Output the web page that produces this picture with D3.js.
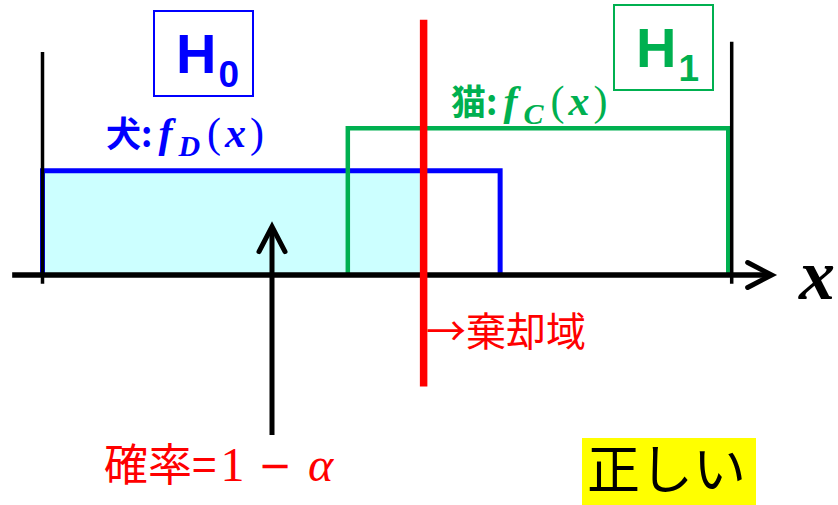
<!DOCTYPE html>
<html>
<head>
<meta charset="utf-8">
<script src="https://cdn.jsdelivr.net/npm/d3@7"></script>
<style>
  body { margin: 0; background: #fff; }
  svg { display: block; }
</style>
</head>
<body>
<div id="chart"></div>
<script>
// --- data (x in abstract units, density heights) ---
const dogRange = [0, 6.64];        // 犬: f_D(x)
const catRange = [4.43, 9.95];     // 猫: f_C(x)
const dogDensity = 0.71;
const catDensity = 1.0;
const criticalX = 5.53;            // 棄却域 boundary
const probArrowX = 3.33;           // 確率 = 1 - α arrow
const frameX = [0, 10];            // thin vertical guide lines
const axisRange = [-0.44, 10.58];

const labels = {
    dog: "犬:", cat: "猫:", reject: "→棄却域", prob: "確率=", good: "正しい"
};

const width = 838, height = 505;

const x = d3.scaleLinear().domain([0, 10]).range([42.5, 731.7]);
const y = d3.scaleLinear().domain([0, 1]).range([275, 128.3]);

const svg = d3.select("#chart").append("svg")
    .attr("width", width)
    .attr("height", height);

const blue = "#0000ff", green = "#00b050", red = "#ff0000";
const mathFont = "'Liberation Serif', 'DejaVu Serif', serif";
const cjkFont = "'Noto Sans CJK JP', sans-serif";

// shaded acceptance area (dog density left of critical value)
svg.append("rect")
    .attr("x", x(dogRange[0]))
    .attr("y", y(dogDensity))
    .attr("width", x(criticalX) - x(dogRange[0]))
    .attr("height", y(0) - y(dogDensity))
    .attr("fill", "#ccffff");

// density outlines
const rectPath = (r, h) => d3.line()([
    [x(r[0]), y(0)], [x(r[0]), y(h)], [x(r[1]), y(h)], [x(r[1]), y(0)]
]);

svg.append("path")
    .attr("d", rectPath(dogRange, dogDensity))
    .attr("fill", "none")
    .attr("stroke", blue)
    .attr("stroke-width", 5);

svg.append("path")
    .attr("d", rectPath(catRange, catDensity))
    .attr("fill", "none")
    .attr("stroke", green)
    .attr("stroke-width", 4.5);

// thin guide lines
svg.append("line")
    .attr("x1", x(frameX[0])).attr("x2", x(frameX[0]))
    .attr("y1", y(1.52)).attr("y2", y(-0.06))
    .attr("stroke", "#000").attr("stroke-width", 3.5);
svg.append("line")
    .attr("x1", x(frameX[1])).attr("x2", x(frameX[1]))
    .attr("y1", y(1.59)).attr("y2", y(-0.06))
    .attr("stroke", "#000").attr("stroke-width", 3.5);

// x axis with arrow
svg.append("line")
    .attr("x1", x(axisRange[0])).attr("x2", x(axisRange[1]) - 2)
    .attr("y1", y(0)).attr("y2", y(0))
    .attr("stroke", "#000").attr("stroke-width", 5.5);
svg.append("path")
    .attr("d", d3.line()([
        [x(axisRange[1]) - 24, y(0) - 12.5],
        [x(axisRange[1]), y(0)],
        [x(axisRange[1]) - 24, y(0) + 12.5]
    ]))
    .attr("fill", "none").attr("stroke", "#000")
    .attr("stroke-width", 5).attr("stroke-linecap", "round").attr("stroke-linejoin", "miter");

svg.append("text")
    .attr("x", 799).attr("y", 299)
    .attr("font-family", mathFont)
    .attr("font-weight", "bold").attr("font-style", "italic")
    .attr("font-size", 72)
    .text("x");

// probability arrow
svg.append("line")
    .attr("x1", x(probArrowX)).attr("x2", x(probArrowX))
    .attr("y1", y(0.33) + 3).attr("y2", y(-1.09))
    .attr("stroke", "#000").attr("stroke-width", 5);
svg.append("path")
    .attr("d", d3.line()([
        [x(probArrowX) - 13, y(0.33) + 25],
        [x(probArrowX), y(0.33)],
        [x(probArrowX) + 13, y(0.33) + 25]
    ]))
    .attr("fill", "none").attr("stroke", "#000")
    .attr("stroke-width", 5).attr("stroke-linecap", "round");

// critical value line
svg.append("line")
    .attr("x1", x(criticalX)).attr("x2", x(criticalX))
    .attr("y1", y(1.74)).attr("y2", y(-0.76))
    .attr("stroke", red).attr("stroke-width", 7.5);

// hypothesis boxes
function hypBox(bx, by, color, sub) {
    svg.append("rect")
        .attr("x", bx).attr("y", by)
        .attr("width", 99).attr("height", 85)
        .attr("fill", "none").attr("stroke", color).attr("stroke-width", 2);
    const t = svg.append("text")
        .attr("x", bx + 22).attr("y", by + 62)
        .attr("font-family", "'Liberation Sans', Arial, sans-serif")
        .attr("font-weight", "bold")
        .attr("fill", color);
    t.append("tspan").attr("font-size", 56).text("H");
    t.append("tspan").attr("font-size", 37).attr("dx", 2).attr("dy", 14).text(sub);
}
hypBox(154, 11, blue, "0");
hypBox(614, 5, green, "1");

// density labels: 犬:f_D(x) with wide math spacing like Cambria Math
function densLabel(lx, ly, color, head, sub) {
    const t = svg.append("text")
        .attr("x", lx).attr("y", ly)
        .attr("fill", color)
        .attr("font-weight", "bold");
    t.append("tspan").attr("font-family", cjkFont).attr("font-size", 35).text(head);
    t.append("tspan").attr("font-family", mathFont).attr("font-style", "italic")
        .attr("font-size", 42).attr("dx", 6).text("f");
    t.append("tspan").attr("font-family", mathFont).attr("font-style", "italic")
        .attr("font-size", 30).attr("dx", 6).attr("dy", 9).text(sub);
    t.append("tspan").attr("font-family", mathFont).attr("font-weight", "normal")
        .attr("font-size", 42).attr("dy", -9).attr("dx", 7).text("(");
    t.append("tspan").attr("font-family", mathFont).attr("font-style", "italic")
        .attr("font-size", 42).attr("dx", 4).text("x");
    t.append("tspan").attr("font-family", mathFont).attr("font-weight", "normal")
        .attr("font-size", 42).attr("dx", 4).text(")");
}
densLabel(106, 147, blue, labels.dog, "D");
densLabel(451, 115, green, labels.cat, "C");

// rejection region label
svg.append("text")
    .attr("x", 426).attr("y", 346)
    .attr("fill", red)
    .attr("font-family", cjkFont)
    .attr("font-size", 40)
    .text(labels.reject);

// probability label: 確率=1 − α
const pt = svg.append("text")
    .attr("x", 104).attr("y", 481)
    .attr("fill", red);
pt.append("tspan").attr("font-family", cjkFont).attr("font-size", 44).text(labels.prob);
pt.append("tspan").attr("font-family", mathFont).attr("font-size", 48).attr("dx", 4).text("1");
pt.append("tspan").attr("font-family", "'DejaVu Sans', sans-serif").attr("font-size", 40)
    .attr("dx", 14).attr("dy", -2).text("−");
pt.append("tspan").attr("font-family", mathFont).attr("font-style", "italic")
    .attr("font-size", 48).attr("dx", 16).attr("dy", 2).text("α");

// verdict
svg.append("rect")
    .attr("x", 582).attr("y", 438)
    .attr("width", 174).attr("height", 67)
    .attr("fill", "#ffff00");
svg.append("text")
    .attr("x", 587).attr("y", 489)
    .attr("font-family", cjkFont)
    .attr("font-size", 53)
    .attr("fill", "#000")
    .text(labels.good);
</script>
</body>
</html>
